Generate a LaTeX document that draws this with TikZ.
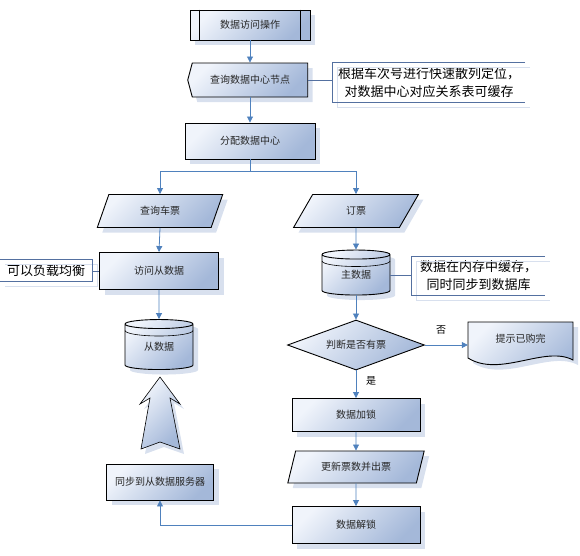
\documentclass[tikz,border=0pt]{standalone}
\usepackage{fontspec}
\setmainfont{Noto Sans CJK SC}
\usepackage{tikz}
\usetikzlibrary{arrows.meta,shapes.geometric,shapes.symbols,shadows,positioning}
\definecolor{flowlight}{RGB}{240,244,251}
\definecolor{flowdark}{RGB}{164,184,217}
\definecolor{flowshadow}{RGB}{216,224,238}
\definecolor{linkblue}{RGB}{79,129,189}
\definecolor{noteblue}{RGB}{84,112,160}

\begin{document}
\begin{tikzpicture}[x=1pt,y=-1pt,
  font=\fontsize{10pt}{12pt}\selectfont,
  shaded/.style={draw=black, line width=0.9pt, text=black!85, top color=flowlight, bottom color=flowdark, shading angle=45},
  shadowed/.style={drop shadow={shadow xshift=5pt, shadow yshift=-5pt, fill=flowshadow, opacity=1}},
  procbox/.style={shaded, shadowed, rectangle, inner sep=0pt},
  iobox/.style={shaded, shadowed, trapezium, trapezium left angle=64, trapezium right angle=116, trapezium stretches=true, inner sep=0pt},
  dbbox/.style={shaded, shadowed, cylinder, shape border rotate=90, aspect=0.3, inner sep=0pt},
  dblid/.style={line width=0.6pt},
  link/.style={draw=linkblue, line width=0.8pt, -{Triangle[length=6pt,width=6pt]}},
  notelink/.style={draw=noteblue, line width=0.7pt},
  noteshade/.style={draw=flowshadow, line width=1pt},
  notebox/.style={inner sep=0pt, font=\fontsize{13pt}{18pt}\selectfont, align=center},
  ynlabel/.style={font=\fontsize{10pt}{12pt}\selectfont}]
  \useasboundingbox (0,0) rectangle (580,555);

  \node[procbox, minimum width=120pt, minimum height=30pt] (access) at (250,25) {数据访问操作};
  \draw[line width=0.9pt] ([xshift=10pt]access.north west) -- ([xshift=10pt]access.south west);
  \draw[line width=0.9pt] ([xshift=-10pt]access.north east) -- ([xshift=-10pt]access.south east);
  \node[shaded, shadowed, signal, signal to=west, signal pointer angle=150, minimum width=120pt, minimum height=34pt, inner sep=0pt] (center) at (250,80) {查询数据中心节点};
  \node[procbox, minimum width=130pt, minimum height=36pt] (alloc) at (250,141) {分配数据中心};
  \coordinate (fork) at (250,171);

  \node[iobox, minimum width=126pt, minimum height=33pt] (query) at (160,211) {查询车票};
  \node[procbox, minimum width=119pt, minimum height=37pt] (slaveread) at (159,271) {访问从数据};
  \node[dbbox, minimum width=68pt, minimum height=50pt] (slavedb) at (159,347) {从数据};
  \draw[dblid] (125,330.5) arc[start angle=180, end angle=360, x radius=34pt, y radius=5.5pt];
  \fill[flowshadow] (164,382) -- (184,409) -- (174,403) -- (184,454) -- (164,447) -- (145,454) -- (154,403) -- (144,409) -- cycle;
  \shade[shaded, line width=0.6pt] (160,377) -- (180,404) -- (170,398) -- (180,449) -- (160,442) -- (141,449) -- (150,398) -- (140,404) -- cycle;
  \node[procbox, minimum width=107pt, minimum height=36pt] (sync) at (160,482) {同步到从数据服务器};

  \node[iobox, minimum width=125pt, minimum height=33pt] (book) at (356,211) {订票};
  \node[dbbox, minimum width=68pt, minimum height=45pt] (masterdb) at (356,275) {主数据};
  \draw[dblid] (322,261) arc[start angle=180, end angle=360, x radius=34pt, y radius=5.5pt];
  \node[shaded, diamond, aspect=2.74, minimum width=137pt, minimum height=50pt, inner sep=0pt] (judge) at (356,345) {判断是否有票};
  \fill[flowshadow] (473,327) -- (578,327) -- (578,365) .. controls (550,350) and (505,383) .. (473,363) -- cycle;
  \shade[shaded] (468,322) -- (573,322) -- (573,360) .. controls (545,345) and (500,378) .. (468,358) -- cycle;
  \node[minimum width=105pt, minimum height=46pt, inner sep=0pt, text=black!85] (soldout) at (520.5,339) {提示已购完};
  \node[procbox, minimum width=128pt, minimum height=33pt] (lock) at (356,415) {数据加锁};
  \node[iobox, minimum width=137pt, minimum height=32pt] (update) at (356,467) {更新票数并出票};
  \node[procbox, minimum width=128pt, minimum height=37pt] (unlock) at (356,525) {数据解锁};

  \node[notebox, minimum width=192pt, minimum height=39pt] (note1) at (429,82.5) {根据车次号进行快速散列定位，\\对数据中心对应关系表可缓存};
  \node[notebox, minimum width=133pt, minimum height=38pt] (note2) at (478.5,276) {数据在内存中缓存，\\同时同步到数据库};
  \node[notebox, minimum width=92pt, minimum height=21pt] (note3) at (46,270.5) {可以负载均衡};
  \draw[noteshade] ([shift={(5,5)}]note1.north east) -- ([shift={(5,5)}]note1.north west) -- ([shift={(5,5)}]note1.south west) -- ([shift={(5,5)}]note1.south east);
  \draw[noteshade] ([shift={(5,5)}]note2.north east) -- ([shift={(5,5)}]note2.north west) -- ([shift={(5,5)}]note2.south west) -- ([shift={(5,5)}]note2.south east);
  \draw[noteshade] ([shift={(5,5)}]note3.north west) -- ([shift={(5,5)}]note3.north east) -- ([shift={(5,5)}]note3.south east) -- ([shift={(5,5)}]note3.south west);
  \draw[notelink] (note1.north east) -- (note1.north west) -- (note1.south west) -- (note1.south east);
  \draw[notelink] (note2.north east) -- (note2.north west) -- (note2.south west) -- (note2.south east);
  \draw[notelink] (note3.north west) -- (note3.north east) -- (note3.south east) -- (note3.south west);
  \draw[notelink] (center.east) -- (center.east -| note1.west);
  \draw[notelink] (masterdb.east) -- (masterdb.east -| note2.west);
  \draw[notelink] (slaveread.west) -- (slaveread.west -| note3.east);

  \node[ynlabel] (no) at (441,330) {否};
  \node[ynlabel] (yes) at (371,381) {是};

  \draw[link] (access.south) -- (center.north);
  \draw[link] (center.south) -- (alloc.north);
  \draw[link] (alloc.south) -- (fork) -| (query.north);
  \draw[link] (fork) -| (book.north);
  \draw[link] (query.south) -- (slaveread.north);
  \draw[link] (slaveread.south) -- (slavedb.north);
  \draw[link] (book.south) -- (masterdb.north);
  \draw[link] (masterdb.south) -- (judge.north);
  \draw[link] (judge.east) -- (judge.east -| soldout.west);
  \draw[link] (judge.south) -- (lock.north);
  \draw[link] (lock.south) -- (update.north);
  \draw[link] (update.south) -- (unlock.north);
  \draw[link] (unlock.west) -| (sync.south);
\end{tikzpicture}
\end{document}
